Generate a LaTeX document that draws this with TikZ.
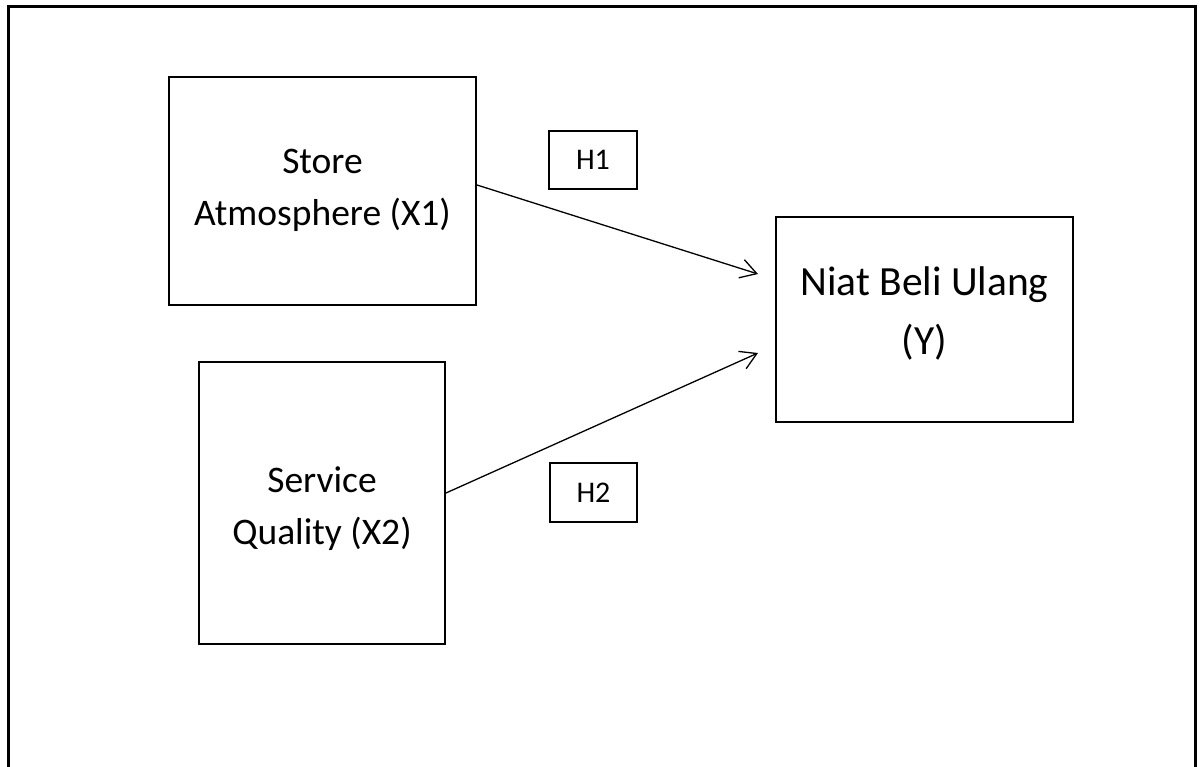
\documentclass[tikz,border=0pt]{standalone}
\usepackage{fontspec}
\setmainfont{Carlito}
\usetikzlibrary{arrows.meta}
\tikzset{
  px/.style={x=1pt,y=-1pt},
  varbox/.style={draw,line width=2pt,inner sep=0pt},
  vartext/.style={inner sep=0pt,align=center,font=\fontsize{37.5}{52}\selectfont},
  hbox/.style={draw,line width=2pt,inner sep=0pt,
    font=\fontsize{30}{34}\selectfont},
  link/.style={line width=1.3pt,-{Straight Barb[length=16pt,width=19pt,line width=1.3pt]}}
}
\begin{document}
\begin{tikzpicture}[px]
\useasboundingbox (0,0) rectangle (1203,767);
\clip (0,0) rectangle (1203,767);
\fill[white] (0,0) rectangle (1203,767);
\draw[line width=3pt] (8,7) rectangle (1195,800);
\node[varbox,minimum width=307pt,minimum height=228pt] (sa) at (322.5,191) {};
\node[vartext] (sat) at (322.5,190) {Store\\Atmosphere (X1)};
\node[varbox,minimum width=246pt,minimum height=282pt] (sq) at (322,503) {};
\node[vartext] (sqt) at (322,509) {Service\\Quality (X2)};
\node[varbox,minimum width=297pt,minimum height=205pt] (ny) at (924.5,319.5) {};
\node[vartext,font=\fontsize{41.5}{59}\selectfont] (nyt) at (924.5,313) {Niat Beli Ulang\\(Y)};
\node[hbox,minimum width=88pt,minimum height=58pt] (h1) at (593,160) {H1};
\node[hbox,minimum width=87pt,minimum height=59pt] (h2) at (593.5,492.5) {H2};
\coordinate (e1) at (758,274);
\coordinate (e2) at (758,353);
\draw[link] ([yshift=6pt]sa.east) -- (e1);
\draw[link] ([yshift=10pt]sq.east) -- (e2);
\end{tikzpicture}
\end{document}
